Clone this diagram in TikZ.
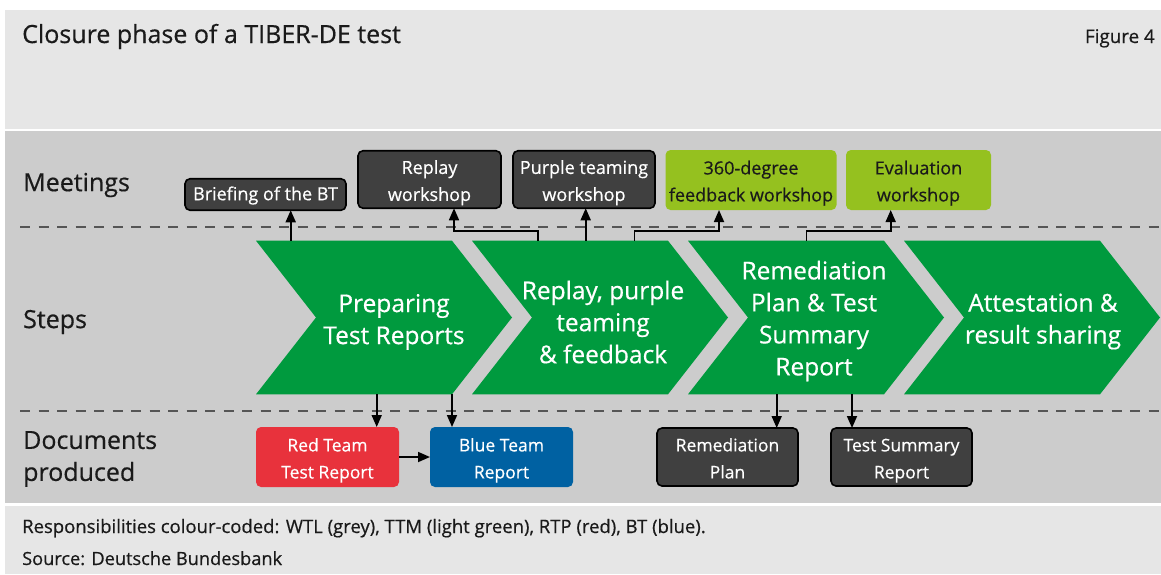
\documentclass[tikz,border=0pt]{standalone}
\usepackage{fontspec}
\setmainfont[FakeBold=0.5]{Open Sans}
\usetikzlibrary{arrows.meta}

\definecolor{hdrgrey}{HTML}{E6E6E6}
\definecolor{bodygrey}{HTML}{CCCCCC}
\definecolor{stepgreen}{HTML}{009A3E}
\definecolor{lightgreen}{HTML}{95C11F}
\definecolor{darkbox}{HTML}{404040}
\definecolor{rtpred}{HTML}{E8323C}
\definecolor{btblue}{HTML}{0061A2}
\definecolor{dashgrey}{HTML}{555555}
\definecolor{inktext}{HTML}{1A1A1A}

% two centred lines, 27pt apart, set a little low inside their box
\newcommand{\twolines}[2]{\raisebox{-2.5pt}[\height][\depth]{\begin{tabular}{@{}c@{}}#1\\#2\end{tabular}}}

\tikzset{
  box/.style={rounded corners=5pt, align=center, inner sep=0pt, outer sep=0pt},
  meetfont/.style={font=\fontsize{18}{27}\selectfont},
  docfont/.style={font=\fontsize{17.5}{27}\selectfont},
  wtlbox/.style={box, draw=black, line width=1.6pt, fill=darkbox, text=white},
  ttmbox/.style={box, fill=lightgreen, text=inktext},
  rtpbox/.style={box, fill=rtpred, text=white},
  btbox/.style={box, fill=btblue, text=white},
  stepshape/.style={minimum width=256pt, minimum height=153.6pt, inner sep=0pt, outer sep=0pt},
  steptext/.style={align=center, text=white, inner sep=0pt, font=\fontsize{24.5}{32}\selectfont},
  rowlabel/.style={anchor=west, align=left, inner sep=0pt, text=inktext, font=\fontsize{25}{32}\selectfont},
  dashline/.style={draw=dashgrey, line width=2.3pt, dash pattern=on 10pt off 8.5pt},
  arr/.style={draw=black, line width=1.7pt, -{Triangle[width=10pt,length=12pt]}}
}

\begin{document}
\begin{tikzpicture}[x=1pt,y=-1pt]
  % page and panels
  \fill[white] (0,0) rectangle (1161,574);
  \useasboundingbox (0,0) rectangle (1161,574);
  \fill[hdrgrey] (5,10) rectangle (1161,129);
  \fill[bodygrey] (5,131) rectangle (1161,503);
  \fill[hdrgrey] (5,506) rectangle (1161,574);

  % header
  \node[anchor=base west, inner sep=0pt, text=inktext, font=\fontsize{25}{30}\selectfont]
    (title) at (22,43) {Closure phase of a TIBER-DE test};
  \node[anchor=base east, inner sep=0pt, text=inktext, font=\fontsize{18.8}{22}\selectfont]
    (fignum) at (1155,43) {Figure 4};

  % row separators
  \draw[dashline] (20,227) -- (1161,227);
  \draw[dashline] (20,411) -- (1161,411);

  % row labels
  \node[rowlabel] (lmeet) at (23,185) {Meetings};
  \node[rowlabel] (lsteps) at (23,322) {Steps};
  \node[rowlabel] (ldocs) at (23,459) {Documents\\produced};

  % process steps (chevrons)
  \node[stepshape] (c1) at (384,317.5) {};
  \node[stepshape] (c2) at (600,317.5) {};
  \node[stepshape] (c3) at (816,317.5) {};
  \node[stepshape] (c4) at (1032,317.5) {};
  \foreach \n in {c1,c2,c3,c4}
    \fill[stepgreen] (\n.north west) -- ([xshift=-60pt]\n.north east) -- (\n.east)
      -- ([xshift=-60pt]\n.south east) -- (\n.south west) -- ([xshift=60pt]\n.west) -- cycle;
  \node[steptext] (t1) at (394,322) {Preparing\\Test Reports};
  \node[steptext] (t2) at (603,322) {Replay, purple\\teaming\\\& feedback};
  \node[steptext] (t3) at (814,321) {Remediation\\Plan \& Test\\Summary\\Report};
  \node[steptext] (t4) at (1043,321.5) {Attestation \&\\result sharing};

  % meetings
  \node[wtlbox, meetfont, minimum width=161pt, minimum height=31.5pt] (brief) at (265.5,194.5)
    {\raisebox{-1pt}[\height][\depth]{Briefing of the BT}};
  \node[wtlbox, meetfont, minimum width=143pt, minimum height=57.5pt] (replay) at (429.5,179.5)
    {\twolines{Replay}{workshop}};
  \node[wtlbox, meetfont, minimum width=142pt, minimum height=57.5pt] (purple) at (584,179.5)
    {\twolines{Purple teaming}{workshop}};
  \node[ttmbox, meetfont, minimum width=171pt, minimum height=60pt] (deg360) at (751,180)
    {\twolines{360-degree}{feedback workshop}};
  \node[ttmbox, meetfont, minimum width=145pt, minimum height=60pt] (evalws) at (918.5,180)
    {\twolines{Evaluation}{workshop}};

  % documents
  \node[rtpbox, docfont, minimum width=143pt, minimum height=60pt] (red) at (327.5,457)
    {\twolines{Red Team}{Test Report}};
  \node[btbox, docfont, minimum width=143pt, minimum height=60pt] (blue) at (501.5,457)
    {\twolines{Blue Team}{Report}};
  \node[wtlbox, docfont, minimum width=141pt, minimum height=58pt] (remed) at (727.5,457)
    {\twolines{Remediation}{Plan}};
  \node[wtlbox, docfont, minimum width=141pt, minimum height=58pt] (tsum) at (901.5,457)
    {\twolines{Test Summary}{Report}};

  % links to meetings
  \draw[arr] (290.7,0 |- c1.north) -- (290.7,0 |- brief.south);
  \draw[arr] (537.7,0 |- c2.north) -- (537.7,231) -- (454,231) -- (454,0 |- replay.south);
  \draw[arr] (585.7,0 |- c2.north) -- (585.7,0 |- purple.south);
  \draw[arr] (634.5,0 |- c2.north) -- (634.5,231) -- (719,231) -- (719,0 |- deg360.south);
  \draw[arr] (806.5,0 |- c3.north) -- (806.5,231) -- (890.7,231) -- (890.7,0 |- evalws.south);

  % links to documents
  \draw[arr] (376.7,0 |- c1.south) -- (376.7,0 |- red.north);
  \draw[arr] (452,0 |- c1.south) -- (452,0 |- blue.north);
  \draw[arr] (776.7,0 |- c3.south) -- (776.7,0 |- remed.north);
  \draw[arr] (852,0 |- c3.south) -- (852,0 |- tsum.north);
  \draw[arr] (red.east) -- (blue.west);

  % footer
  \node[anchor=base west, inner sep=0pt, text=inktext, font=\fontsize{18.5}{22}\selectfont]
    (note) at (22,533) {Responsibilities colour-coded: WTL (grey), TTM (light green), RTP (red), BT (blue).};
  \node[anchor=base west, inner sep=0pt, text=inktext, font=\fontsize{18.2}{22}\selectfont]
    (source) at (22,565) {Source: Deutsche Bundesbank};
\end{tikzpicture}
\end{document}
